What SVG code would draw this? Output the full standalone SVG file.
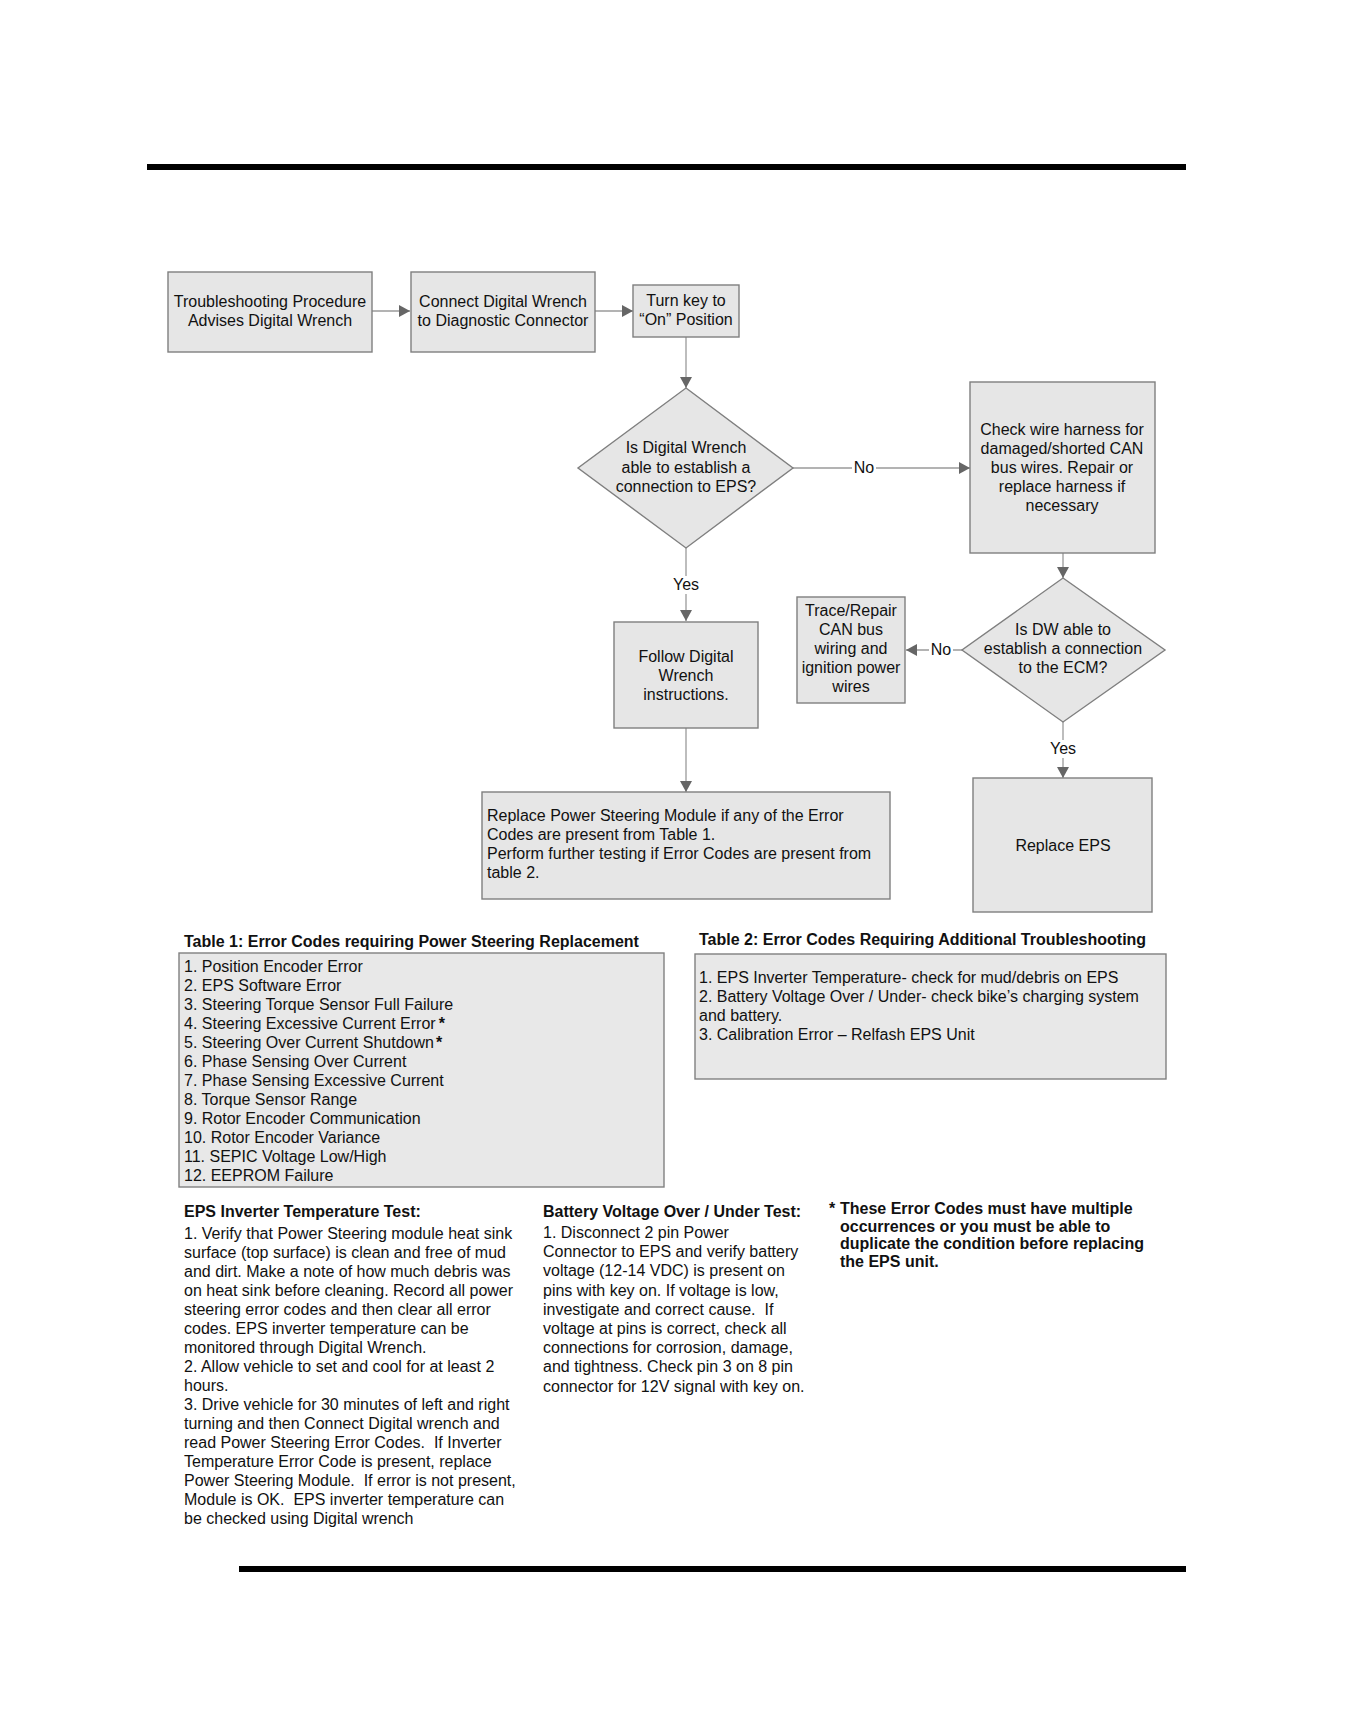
<svg xmlns="http://www.w3.org/2000/svg" width="1368" height="1728" viewBox="0 0 1368 1728">
<defs>
<marker id="arr" markerUnits="userSpaceOnUse" markerWidth="11" markerHeight="12" refX="11" refY="6" orient="auto">
<path d="M0,0 L11,6 L0,12 z" fill="#666"/>
</marker>
<style>
text{font-family:"Liberation Sans",Arial,sans-serif;font-size:16px;fill:#111}
.c{text-anchor:middle}
.b{font-weight:bold}
.n{fill:#e6e6e6;stroke:#7f7f7f;stroke-width:1.4}
.t{fill:#e8e8e8;stroke:#808080;stroke-width:1.4}
.e{stroke:#9a9a9a;stroke-width:1.3;fill:none}
.lb{fill:#fff}
</style>
</defs>
<rect width="1368" height="1728" fill="#fff"/>
<rect x="147" y="164" width="1039" height="6" fill="#000"/>
<rect x="239" y="1566" width="947" height="6" fill="#000"/>

<g id="connectors">
<line class="e" x1="372" y1="311" x2="410" y2="311" marker-end="url(#arr)"/>
<line class="e" x1="595" y1="311" x2="633" y2="311" marker-end="url(#arr)"/>
<line class="e" x1="686" y1="337" x2="686" y2="388" marker-end="url(#arr)"/>
<line class="e" x1="793" y1="468" x2="970" y2="468" marker-end="url(#arr)"/>
<line class="e" x1="686" y1="548" x2="686" y2="621" marker-end="url(#arr)"/>
<line class="e" x1="1063" y1="553" x2="1063" y2="578" marker-end="url(#arr)"/>
<line class="e" x1="962" y1="650" x2="906" y2="650" marker-end="url(#arr)"/>
<line class="e" x1="1063" y1="722" x2="1063" y2="778" marker-end="url(#arr)"/>
<line class="e" x1="686" y1="728" x2="686" y2="792" marker-end="url(#arr)"/>
<rect class="lb" x="852" y="460" width="24" height="17"/>
<text class="c" x="864" y="473">No</text>
<rect class="lb" x="672" y="576" width="28" height="18"/>
<text class="c" x="686" y="590">Yes</text>
<rect class="lb" x="929" y="642" width="24" height="17"/>
<text class="c" x="941" y="655">No</text>
<rect class="lb" x="1049" y="740" width="28" height="18"/>
<text class="c" x="1063" y="754">Yes</text>
</g>

<g id="n1">
<rect class="n" x="168" y="272" width="204" height="80"/>
<text class="c" x="270" y="307">Troubleshooting Procedure</text>
<text class="c" x="270" y="326">Advises Digital Wrench</text>
</g>
<g id="n2">
<rect class="n" x="411" y="272" width="184" height="80"/>
<text class="c" x="503" y="307">Connect Digital Wrench</text>
<text class="c" x="503" y="326">to Diagnostic Connector</text>
</g>
<g id="n3">
<rect class="n" x="633" y="285" width="106" height="52"/>
<text class="c" x="686" y="306">Turn key to</text>
<text class="c" x="686" y="325">“On” Position</text>
</g>
<g id="n4">
<polygon class="n" points="686,388 793,468 686,548 578,468"/>
<text class="c" x="686" y="453">Is Digital Wrench</text>
<text class="c" x="686" y="473">able to establish a</text>
<text class="c" x="686" y="492">connection to EPS?</text>
</g>
<g id="n5">
<rect class="n" x="970" y="382" width="185" height="171"/>
<text class="c" x="1062" y="435">Check wire harness for</text>
<text class="c" x="1062" y="454">damaged/shorted CAN</text>
<text class="c" x="1062" y="473">bus wires. Repair or</text>
<text class="c" x="1062" y="492">replace harness if</text>
<text class="c" x="1062" y="511">necessary</text>
</g>
<g id="n6">
<polygon class="n" points="1063,578 1165,650 1063,722 962,650"/>
<text class="c" x="1063" y="635">Is DW able to</text>
<text class="c" x="1063" y="654">establish a connection</text>
<text class="c" x="1063" y="673">to the ECM?</text>
</g>
<g id="n7">
<rect class="n" x="797" y="597" width="108" height="106"/>
<text class="c" x="851" y="616">Trace/Repair</text>
<text class="c" x="851" y="635">CAN bus</text>
<text class="c" x="851" y="654">wiring and</text>
<text class="c" x="851" y="673">ignition power</text>
<text class="c" x="851" y="692">wires</text>
</g>
<g id="n8">
<rect class="n" x="614" y="622" width="144" height="106"/>
<text class="c" x="686" y="662">Follow Digital</text>
<text class="c" x="686" y="681">Wrench</text>
<text class="c" x="686" y="700">instructions.</text>
</g>
<g id="n9">
<rect class="n" x="973" y="778" width="179" height="134"/>
<text class="c" x="1063" y="851">Replace EPS</text>
</g>
<g id="n10">
<rect class="n" x="482" y="792" width="408" height="107"/>
<text x="487" y="821">Replace Power Steering Module if any of the Error</text>
<text x="487" y="840">Codes are present from Table 1.</text>
<text x="487" y="859">Perform further testing if Error Codes are present from</text>
<text x="487" y="878">table 2.</text>
</g>

<g id="table1">
<text class="b" x="184" y="947">Table 1: Error Codes requiring Power Steering Replacement</text>
<rect class="t" x="179" y="953" width="485" height="234"/>
<text x="184" y="972">1. Position Encoder Error</text>
<text x="184" y="991">2. EPS Software Error</text>
<text x="184" y="1010">3. Steering Torque Sensor Full Failure</text>
<text x="184" y="1029">4. Steering Excessive Current Error<tspan class="b" dx="3">*</tspan></text>
<text x="184" y="1048">5. Steering Over Current Shutdown<tspan class="b" dx="2">*</tspan></text>
<text x="184" y="1067">6. Phase Sensing Over Current</text>
<text x="184" y="1086">7. Phase Sensing Excessive Current</text>
<text x="184" y="1105">8. Torque Sensor Range</text>
<text x="184" y="1124">9. Rotor Encoder Communication</text>
<text x="184" y="1143">10. Rotor Encoder Variance</text>
<text x="184" y="1162">11. SEPIC Voltage Low/High</text>
<text x="184" y="1181">12. EEPROM Failure</text>
</g>

<g id="table2">
<text class="b" x="699" y="945">Table 2: Error Codes Requiring Additional Troubleshooting</text>
<rect class="t" x="695" y="954" width="471" height="125"/>
<text x="699" y="983">1. EPS Inverter Temperature- check for mud/debris on EPS</text>
<text x="699" y="1002">2. Battery Voltage Over / Under- check bike’s charging system</text>
<text x="699" y="1021">and battery.</text>
<text x="699" y="1040">3. Calibration Error – Relfash EPS Unit</text>
</g>

<g id="inverter-test">
<text class="b" x="184" y="1217">EPS Inverter Temperature Test:</text>
<text x="184" y="1239">1. Verify that Power Steering module heat sink</text>
<text x="184" y="1258">surface (top surface) is clean and free of mud</text>
<text x="184" y="1277">and dirt. Make a note of how much debris was</text>
<text x="184" y="1296">on heat sink before cleaning. Record all power</text>
<text x="184" y="1315">steering error codes and then clear all error</text>
<text x="184" y="1334">codes. EPS inverter temperature can be</text>
<text x="184" y="1353">monitored through Digital Wrench.</text>
<text x="184" y="1372">2. Allow vehicle to set and cool for at least 2</text>
<text x="184" y="1391">hours.</text>
<text x="184" y="1410">3. Drive vehicle for 30 minutes of left and right</text>
<text x="184" y="1429">turning and then Connect Digital wrench and</text>
<text x="184" y="1448" xml:space="preserve">read Power Steering Error Codes.  If Inverter</text>
<text x="184" y="1467">Temperature Error Code is present, replace</text>
<text x="184" y="1486" xml:space="preserve">Power Steering Module.  If error is not present,</text>
<text x="184" y="1505" xml:space="preserve">Module is OK.  EPS inverter temperature can</text>
<text x="184" y="1524">be checked using Digital wrench</text>
</g>

<g id="battery-test">
<text class="b" x="543" y="1217">Battery Voltage Over / Under Test:</text>
<text x="543" y="1238">1. Disconnect 2 pin Power</text>
<text x="543" y="1257">Connector to EPS and verify battery</text>
<text x="543" y="1276">voltage (12-14 VDC) is present on</text>
<text x="543" y="1296">pins with key on. If voltage is low,</text>
<text x="543" y="1315" xml:space="preserve">investigate and correct cause.  If</text>
<text x="543" y="1334">voltage at pins is correct, check all</text>
<text x="543" y="1353">connections for corrosion, damage,</text>
<text x="543" y="1372">and tightness. Check pin 3 on 8 pin</text>
<text x="543" y="1392">connector for 12V signal with key on.</text>
</g>

<g id="note">
<text class="b" x="829" y="1214">*</text>
<text class="b" x="840" y="1214">These Error Codes must have multiple</text>
<text class="b" x="840" y="1232">occurrences or you must be able to</text>
<text class="b" x="840" y="1249">duplicate the condition before replacing</text>
<text class="b" x="840" y="1267">the EPS unit.</text>
</g>
</svg>
